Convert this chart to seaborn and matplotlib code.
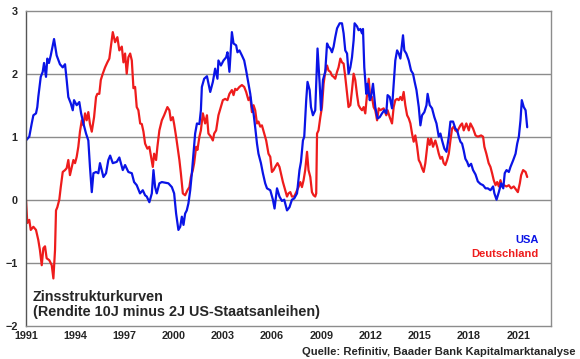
import pandas as pd
import numpy as np
import matplotlib
matplotlib.use('Agg')
import matplotlib.pyplot as plt
import seaborn as sns

# ─────────────────────────────────────────
# DATA
# ─────────────────────────────────────────
us_years = [1991.00, 1991.20, 1991.35, 1991.45, 1991.61, 1991.69, 1991.75, 1991.90, 1992.02, 1992.10,
            1992.22, 1992.30, 1992.40, 1992.51, 1992.71, 1992.87, 1993.00, 1993.07, 1993.24, 1993.38,
            1993.48, 1993.58, 1993.73, 1993.85, 1993.93, 1994.09, 1994.25, 1994.36, 1994.50, 1994.66,
            1994.80, 1994.90, 1995.01, 1995.11, 1995.27, 1995.41, 1995.51, 1995.72, 1995.88, 1996.02,
            1996.13, 1996.29, 1996.53, 1996.69, 1996.90, 1997.04, 1997.24, 1997.45, 1997.59, 1997.75,
            1997.95, 1998.12, 1998.26, 1998.36, 1998.52, 1998.67, 1998.77, 1998.87, 1998.97, 1999.13,
            1999.28, 1999.48, 1999.68, 1999.89, 2000.03, 2000.15, 2000.29, 2000.40, 2000.50, 2000.60,
            2000.70, 2000.80, 2000.90, 2001.01, 2001.11, 2001.21, 2001.31, 2001.42, 2001.57, 2001.66,
            2001.72, 2001.86, 2002.03, 2002.23, 2002.39, 2002.53, 2002.67, 2002.73, 2002.88, 2003.04,
            2003.20, 2003.28, 2003.40, 2003.55, 2003.65, 2003.81, 2003.89, 2004.01, 2004.16, 2004.30,
            2004.42, 2004.56, 2004.67, 2004.77, 2004.87, 2004.97, 2005.08, 2005.17, 2005.32, 2005.44,
            2005.58, 2005.69, 2005.89, 2006.05, 2006.15, 2006.30, 2006.45, 2006.60, 2006.74, 2006.91,
            2007.06, 2007.21, 2007.35, 2007.52, 2007.67, 2007.76, 2007.88, 2007.96, 2008.08, 2008.16,
            2008.29, 2008.37, 2008.49, 2008.63, 2008.77, 2008.90, 2008.98, 2009.10, 2009.24, 2009.35,
            2009.44, 2009.55, 2009.65, 2009.75, 2009.85, 2009.96, 2010.12, 2010.26, 2010.36, 2010.46,
            2010.57, 2010.66, 2010.77, 2010.87, 2010.97, 2011.03, 2011.18, 2011.27, 2011.38, 2011.48,
            2011.54, 2011.62, 2011.74, 2011.82, 2011.95, 2012.03, 2012.15, 2012.29, 2012.43, 2012.56,
            2012.70, 2012.84, 2012.96, 2013.04, 2013.17, 2013.31, 2013.41, 2013.51, 2013.62, 2013.72,
            2013.82, 2013.92, 2013.98, 2014.06, 2014.18, 2014.33, 2014.47, 2014.59, 2014.69, 2014.80,
            2014.94, 2015.04, 2015.14, 2015.28, 2015.41, 2015.48, 2015.61, 2015.75, 2015.89, 2016.02,
            2016.16, 2016.26, 2016.36, 2016.50, 2016.63, 2016.77, 2016.87, 2017.03, 2017.17, 2017.28,
            2017.38, 2017.48, 2017.58, 2017.68, 2017.78, 2017.89, 2017.99, 2018.13, 2018.25, 2018.40,
            2018.54, 2018.70, 2018.86, 2019.01, 2019.15, 2019.31, 2019.47, 2019.55, 2019.68, 2019.82,
            2019.96, 2020.09, 2020.18, 2020.29, 2020.43, 2020.53, 2020.70, 2020.84, 2020.94, 2021.04,
            2021.14, 2021.22, 2021.34, 2021.45, 2021.55]
us_vals = [0.94, 1.00, 1.21, 1.34, 1.37, 1.47, 1.63, 1.95, 2.03, 2.17,
           1.95, 2.24, 2.17, 2.29, 2.55, 2.29, 2.20, 2.15, 2.10, 2.15,
           1.90, 1.63, 1.53, 1.42, 1.58, 1.50, 1.55, 1.37, 1.21, 1.05,
           0.94, 0.52, 0.12, 0.42, 0.44, 0.42, 0.58, 0.36, 0.42, 0.63,
           0.70, 0.58, 0.60, 0.67, 0.47, 0.55, 0.44, 0.42, 0.28, 0.23,
           0.10, 0.15, 0.07, 0.05, -0.04, 0.10, 0.47, 0.20, 0.10, 0.26,
           0.28, 0.27, 0.26, 0.20, 0.10, -0.22, -0.48, -0.43, -0.27, -0.40,
           -0.22, -0.17, -0.06, 0.15, 0.42, 0.74, 1.05, 1.21, 1.20, 1.42,
           1.79, 1.92, 1.96, 1.71, 1.87, 2.08, 1.92, 2.21, 2.13, 2.21,
           2.26, 2.34, 2.03, 2.66, 2.48, 2.45, 2.34, 2.37, 2.29, 2.21,
           2.05, 1.84, 1.68, 1.47, 1.37, 1.15, 0.89, 0.73, 0.58, 0.42,
           0.26, 0.18, 0.15, 0.00, -0.14, 0.18, 0.05, -0.02, 0.00, -0.17,
           -0.12, 0.00, 0.02, 0.10, 0.47, 0.60, 0.94, 1.00, 1.58, 1.87,
           1.74, 1.47, 1.34, 1.42, 2.40, 1.84, 1.42, 1.90, 2.03, 2.48,
           2.43, 2.40, 2.34, 2.43, 2.58, 2.72, 2.80, 2.80, 2.64, 2.37,
           2.32, 2.00, 2.10, 2.26, 2.53, 2.80, 2.75, 2.69, 2.71, 2.64,
           2.71, 2.10, 1.68, 1.84, 1.58, 1.63, 1.84, 1.47, 1.29, 1.31,
           1.37, 1.42, 1.37, 1.66, 1.63, 1.45, 1.84, 2.21, 2.37, 2.32,
           2.24, 2.48, 2.61, 2.37, 2.32, 2.21, 2.05, 2.00, 1.87, 1.74,
           1.47, 1.18, 1.34, 1.39, 1.50, 1.68, 1.50, 1.45, 1.31, 1.21,
           1.00, 1.05, 0.94, 0.81, 0.76, 1.00, 1.24, 1.24, 1.13, 1.10,
           1.00, 0.92, 0.89, 0.78, 0.65, 0.60, 0.53, 0.57, 0.47, 0.40,
           0.29, 0.25, 0.23, 0.18, 0.18, 0.15, 0.21, 0.10, 0.00, 0.12,
           0.26, 0.18, 0.42, 0.47, 0.44, 0.52, 0.63, 0.73, 0.89, 1.00,
           1.26, 1.58, 1.47, 1.42, 1.15]

de_years = [1991.00, 1991.08, 1991.20, 1991.29, 1991.45, 1991.61, 1991.75, 1991.85, 1991.96, 1992.06,
            1992.16, 1992.26, 1992.42, 1992.57, 1992.67, 1992.77, 1992.83, 1992.91, 1993.03, 1993.12,
            1993.24, 1993.38, 1993.48, 1993.58, 1993.68, 1993.79, 1993.89, 1993.99, 1994.09, 1994.19,
            1994.29, 1994.40, 1994.50, 1994.60, 1994.70, 1994.80, 1994.90, 1995.01, 1995.15, 1995.27,
            1995.35, 1995.47, 1995.56, 1995.68, 1995.82, 1995.96, 1996.08, 1996.17, 1996.29, 1996.43,
            1996.57, 1996.69, 1996.84, 1996.94, 1997.04, 1997.14, 1997.24, 1997.35, 1997.45, 1997.55,
            1997.65, 1997.75, 1997.85, 1997.96, 1998.06, 1998.16, 1998.26, 1998.40, 1998.52, 1998.61,
            1998.73, 1998.81, 1998.93, 1999.01, 1999.13, 1999.28, 1999.42, 1999.54, 1999.62, 1999.74,
            1999.83, 1999.95, 2000.03, 2000.15, 2000.26, 2000.35, 2000.44, 2000.56, 2000.70, 2000.84,
            2000.96, 2001.05, 2001.17, 2001.25, 2001.37, 2001.45, 2001.57, 2001.66, 2001.78, 2001.92,
            2002.03, 2002.12, 2002.27, 2002.39, 2002.47, 2002.59, 2002.73, 2002.88, 2003.00, 2003.14,
            2003.28, 2003.40, 2003.55, 2003.65, 2003.75, 2003.85, 2004.01, 2004.16, 2004.30, 2004.42,
            2004.56, 2004.67, 2004.77, 2004.87, 2004.97, 2005.08, 2005.17, 2005.28, 2005.38, 2005.52,
            2005.64, 2005.78, 2005.89, 2005.99, 2006.09, 2006.19, 2006.33, 2006.45, 2006.54, 2006.66,
            2006.80, 2006.91, 2007.00, 2007.11, 2007.21, 2007.35, 2007.47, 2007.61, 2007.72, 2007.82,
            2007.92, 2008.02, 2008.13, 2008.22, 2008.33, 2008.43, 2008.53, 2008.63, 2008.69, 2008.74,
            2008.83, 2008.94, 2009.04, 2009.14, 2009.24, 2009.35, 2009.44, 2009.55, 2009.65, 2009.75,
            2009.85, 2009.96, 2010.05, 2010.16, 2010.26, 2010.36, 2010.46, 2010.57, 2010.66, 2010.77,
            2010.87, 2010.97, 2011.07, 2011.18, 2011.27, 2011.38, 2011.48, 2011.58, 2011.68, 2011.79,
            2011.89, 2011.99, 2012.09, 2012.19, 2012.29, 2012.40, 2012.50, 2012.60, 2012.80, 2012.96,
            2013.04, 2013.17, 2013.31, 2013.41, 2013.51, 2013.62, 2013.72, 2013.82, 2013.92, 2014.02,
            2014.12, 2014.23, 2014.33, 2014.43, 2014.53, 2014.63, 2014.73, 2014.84, 2014.94, 2015.04,
            2015.14, 2015.24, 2015.34, 2015.45, 2015.51, 2015.61, 2015.69, 2015.81, 2015.95, 2016.06,
            2016.16, 2016.26, 2016.36, 2016.46, 2016.56, 2016.67, 2016.77, 2016.87, 2016.97, 2017.07,
            2017.17, 2017.28, 2017.38, 2017.48, 2017.58, 2017.68, 2017.84, 2017.99, 2018.09, 2018.25,
            2018.40, 2018.54, 2018.74, 2018.86, 2018.94, 2019.06, 2019.20, 2019.31, 2019.41, 2019.51,
            2019.62, 2019.72, 2019.82, 2019.92, 2020.02, 2020.12, 2020.29, 2020.43, 2020.57, 2020.73,
            2020.90, 2020.98, 2021.10, 2021.18, 2021.30, 2021.45, 2021.55]
de_vals = [0.00, -0.37, -0.32, -0.48, -0.43, -0.48, -0.64, -0.80, -1.04, -0.77,
           -0.74, -0.93, -0.96, -1.04, -1.25, -0.80, -0.17, -0.12, 0.00, 0.20,
           0.44, 0.47, 0.50, 0.63, 0.39, 0.52, 0.63, 0.58, 0.68, 0.84,
           1.08, 1.26, 1.18, 1.37, 1.26, 1.39, 1.20, 1.08, 1.31, 1.63,
           1.68, 1.68, 1.90, 2.00, 2.10, 2.18, 2.24, 2.42, 2.66, 2.50,
           2.58, 2.37, 2.43, 2.18, 2.32, 2.00, 2.26, 2.32, 2.21, 1.77,
           1.79, 1.47, 1.42, 1.21, 1.20, 1.08, 0.89, 0.81, 0.84, 0.70,
           0.52, 0.73, 0.63, 0.84, 1.10, 1.26, 1.34, 1.42, 1.47, 1.42,
           1.26, 1.31, 1.20, 1.00, 0.79, 0.63, 0.42, 0.10, 0.07, 0.15,
           0.20, 0.36, 0.47, 0.58, 0.84, 0.79, 1.00, 1.10, 1.37, 1.21,
           1.34, 1.05, 1.00, 0.94, 1.05, 1.10, 1.34, 1.47, 1.58, 1.60,
           1.58, 1.68, 1.74, 1.66, 1.76, 1.74, 1.79, 1.82, 1.79, 1.71,
           1.58, 1.63, 1.39, 1.50, 1.42, 1.21, 1.24, 1.16, 1.18, 1.05,
           0.94, 0.73, 0.68, 0.44, 0.47, 0.52, 0.58, 0.52, 0.42, 0.28,
           0.15, 0.05, 0.10, 0.12, 0.05, 0.05, 0.12, 0.20, 0.28, 0.20,
           0.31, 0.47, 0.76, 0.47, 0.36, 0.12, 0.07, 0.05, 0.10, 1.05,
           1.10, 1.31, 1.47, 1.84, 2.03, 2.13, 2.05, 2.03, 1.97, 1.95,
           1.92, 2.03, 2.10, 2.24, 2.18, 2.16, 1.95, 1.68, 1.47, 1.50,
           1.74, 2.00, 1.90, 1.66, 1.50, 1.45, 1.42, 1.47, 1.37, 1.68,
           1.92, 1.58, 1.63, 1.47, 1.42, 1.26, 1.45, 1.42, 1.45, 1.34,
           1.42, 1.31, 1.21, 1.47, 1.58, 1.60, 1.58, 1.63, 1.58, 1.71,
           1.50, 1.34, 1.29, 1.21, 1.05, 0.92, 1.02, 0.84, 0.63, 0.58,
           0.50, 0.44, 0.58, 0.84, 0.97, 0.87, 0.97, 0.84, 0.94, 0.84,
           0.73, 0.65, 0.68, 0.58, 0.55, 0.63, 0.73, 0.94, 1.13, 1.16,
           1.10, 1.08, 1.13, 1.18, 1.21, 1.10, 1.21, 1.10, 1.21, 1.13,
           1.02, 1.00, 1.02, 1.00, 0.84, 0.73, 0.58, 0.52, 0.42, 0.31,
           0.23, 0.28, 0.21, 0.31, 0.21, 0.23, 0.21, 0.23, 0.18, 0.21,
           0.15, 0.12, 0.26, 0.39, 0.47, 0.44, 0.36]

year_ticks = [1991, 1994, 1997, 2000, 2003, 2006, 2009, 2012, 2015, 2018, 2021]
y_ticks = [-2, -1, 0, 1, 2, 3]
series_names = ['USA', 'Deutschland']
series_colors = ['#0a14e6', '#ee1c1c']

df = pd.concat([
    pd.DataFrame({'Jahr': us_years, 'Spread': us_vals, 'Land': 'USA'}),
    pd.DataFrame({'Jahr': de_years, 'Spread': de_vals, 'Land': 'Deutschland'}),
], ignore_index=True)

# ─────────────────────────────────────────
# SETUP
# ─────────────────────────────────────────
sns.set_style('white')
plt.rcParams['font.family'] = ['Liberation Sans', 'DejaVu Sans']
plt.rcParams['font.weight'] = 'bold'

fig = plt.figure(figsize=(5.8, 3.59), dpi=100)
ax = fig.add_axes([0.0448, 0.0928, 0.9052, 0.8774])

# draw Deutschland first so USA sits on top like the original
sns.lineplot(data=df, x='Jahr', y='Spread', hue='Land',
             hue_order=['Deutschland', 'USA'],
             palette={'USA': series_colors[0], 'Deutschland': series_colors[1]},
             estimator=None, sort=False, linewidth=1.6, legend=False, ax=ax)

ax.set_xlim(1991, 2023)
ax.set_ylim(-2, 3)
ax.set_xticks(year_ticks)
ax.set_yticks(y_ticks)
ax.set_xlabel('')
ax.set_ylabel('')

for yv in [-1, 0, 1, 2]:
    ax.axhline(yv, color='#8c8c8c', linewidth=1.0, zorder=0)

for side in ['top', 'right', 'bottom']:
    ax.spines[side].set_color('#8c8c8c')
    ax.spines[side].set_linewidth(1.0)
ax.spines['left'].set_color('#555555')
ax.spines['left'].set_linewidth(1.0)

ax.tick_params(axis='y', direction='out', length=4, width=1, color='#555555',
               labelsize=7.8, pad=2)
ax.tick_params(axis='x', direction='in', length=3, width=1, color='#8c8c8c',
               labelsize=7.8, pad=4)
for lab in ax.get_xticklabels() + ax.get_yticklabels():
    lab.set_fontweight('bold')

ax.text(0.013, 0.067, 'Zinsstrukturkurven\n(Rendite 10J minus 2J US-Staatsanleihen)',
        transform=ax.transAxes, fontsize=10.4, fontweight='bold', ha='left', va='center',
        linespacing=1.1)
ax.text(0.977, 0.273, series_names[0], transform=ax.transAxes, color=series_colors[0],
        fontsize=8, fontweight='bold', ha='right', va='center')
ax.text(0.977, 0.226, series_names[1], transform=ax.transAxes, color=series_colors[1],
        fontsize=8, fontweight='bold', ha='right', va='center')

fig.text(0.993, 0.02, 'Quelle: Refinitiv, Baader Bank Kapitalmarktanalyse',
         fontsize=8.1, fontweight='bold', ha='right', va='center')

fig.savefig('out.png', dpi=100)
